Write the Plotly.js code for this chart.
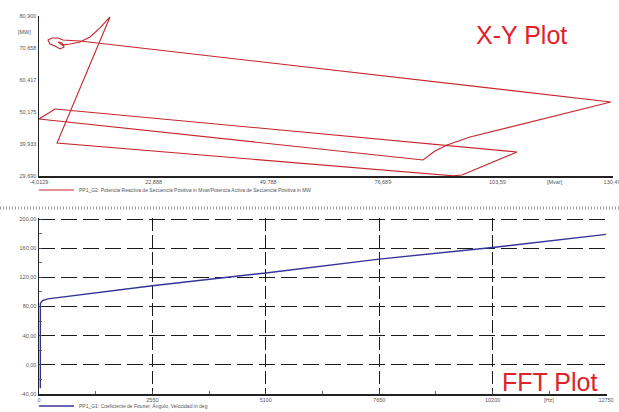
<!DOCTYPE html>
<html>
<head>
<meta charset="utf-8">
<script src="https://cdn.plot.ly/plotly-3.0.1.min.js"></script>
<style>
  html, body { margin: 0; padding: 0; background: #ffffff; }
  #chart { width: 619px; height: 412px; }
</style>
</head>
<body>
<div id="chart"></div>
<script>
// X-Y trajectory: reactive power (Mvar) against active power (MW)
const xyMvar = [12.65, 0.21, 93.17, 95.28, 108.2, -0.26, -4.01, 86.13, 88.94, 91.76, 97.16, 111.2, 130.2,
                5.61, 1.62, 0.45, -0.96, -1.9, -1.43, -0.26, 0.92, 1.86, 1.39, 0.45, 1.39, 3.26, 5.61, 7.96, 10.3, 12.65];
const xyMW   = [80.6, 40.25, 29.75, 30.0, 37.37, 51.14, 47.93, 34.81, 37.69, 39.61, 42.17, 46.98, 53.38,
                72.9, 73.2, 73.86, 73.86, 73.2, 71.94, 71.3, 70.34, 70.98, 72.26, 72.6, 71.6, 71.94, 72.6, 74.2, 77.1, 80.6];

// FFT: Fourier angle against frequency
const fftHz  = [30, 30, 30, 80, 200, 2550, 5100, 7650, 10200, 12750];
const fftDeg = [-32, 40, 84, 88, 90.5, 108.5, 126, 145, 161, 179];

// tick values and labels
const xyXTicks = [-4.0129, 22.888, 49.788, 76.689, 103.59, 130.49];
const xyXText  = ['-4,0129', '22,888', '49,788', '76,689', '103,59', '130,49'];
const xyYTicks = [29.69, 39.933, 50.175, 60.417, 70.658, 80.9];
const xyYText  = ['29,690', '39,933', '50,175', '60,417', '70,658', '80,900'];
const fftXTicks = [0, 2550, 5100, 7650, 10200, 12750];
const fftXText  = ['0', '2550', '5100', '7650', '10200', '12750'];
const fftXMinor = [1275, 3825, 6375, 8925, 11475];
const fftYTicks = [-40, 0, 40, 80, 120, 160, 200];
const fftYText  = ['-40,00', '0,00', '40,00', '80,00', '120,00', '160,00', '200,00'];
const fftYMinor = [-20, 20, 60, 100, 140, 180];

const xyName  = 'PP1_G2: Potencia Reactiva de Secuencia Positiva in Mvar/Potencia Activa de Secuencia Positiva in MW';
const fftName = 'PP1_G1: Coeficiente de Fourier, Ángulo, Velocidad in deg';

const W = 619, H = 412;
const px = v => v / W;
const py = v => 1 - v / H;

const FAMILY = 'Liberation Sans, Arial, sans-serif';
const tickFont = { family: FAMILY, size: 5.5, color: '#555' };

const traces = [
  {
    x: xyMvar, y: xyMW, mode: 'lines', name: xyName,
    line: { color: '#c4262c', width: 1.1 },
    xaxis: 'x', yaxis: 'y', legend: 'legend', hoverinfo: 'skip'
  },
  {
    x: fftHz, y: fftDeg, mode: 'lines', name: fftName,
    line: { color: '#33339a', width: 1.4 },
    xaxis: 'x2', yaxis: 'y2', legend: 'legend2', hoverinfo: 'skip'
  }
];

const layout = {
  width: W, height: H,
  margin: { l: 0, r: 0, t: 0, b: 0, autoexpand: false },
  paper_bgcolor: '#ffffff', plot_bgcolor: '#ffffff',
  font: { family: FAMILY, color: '#555' },
  showlegend: true,
  legend: {
    x: px(34), y: py(190), xanchor: 'left', yanchor: 'middle',
    font: { size: 5, color: '#555' }, bgcolor: 'rgba(0,0,0,0)',
    itemwidth: 35, tracegroupgap: 0
  },
  legend2: {
    x: px(34), y: py(406), xanchor: 'left', yanchor: 'middle',
    font: { size: 5, color: '#555' }, bgcolor: 'rgba(0,0,0,0)',
    itemwidth: 35, tracegroupgap: 0
  },
  xaxis: {
    domain: [px(39), px(612.5)], anchor: 'y',
    range: [-4.0129, 130.6], tickmode: 'array', tickvals: xyXTicks, ticktext: xyXText,
    showgrid: false, zeroline: false, showline: true, linecolor: '#222', linewidth: 1.5,
    ticks: '', tickfont: tickFont, ticklabeloverflow: 'allow'
  },
  yaxis: {
    domain: [py(176), py(16)], anchor: 'x',
    range: [29.69, 80.9], tickmode: 'array', tickvals: xyYTicks, ticktext: xyYText,
    showgrid: false, zeroline: false, showline: true, linecolor: '#222', linewidth: 1.5,
    ticks: '', tickfont: tickFont
  },
  xaxis2: {
    domain: [px(39), px(607)], anchor: 'y2',
    range: [0, 12772], tickmode: 'array', tickvals: fftXTicks, ticktext: fftXText,
    showgrid: true, gridcolor: '#1a1a1a', gridwidth: 1, griddash: '13px,4px',
    zeroline: false, showline: true, linecolor: '#222', linewidth: 1.5,
    ticks: 'inside', ticklen: 3, tickcolor: '#444', tickfont: tickFont,
    minor: { tickmode: 'array', tickvals: fftXMinor, ticks: 'inside', ticklen: 3, tickcolor: '#666', showgrid: false }
  },
  yaxis2: {
    domain: [py(394), py(218)], anchor: 'x2',
    range: [-40, 201.4], tickmode: 'array', tickvals: fftYTicks, ticktext: fftYText,
    showgrid: true, gridcolor: '#1a1a1a', gridwidth: 1, griddash: '16px,6px',
    zeroline: false, showline: true, linecolor: '#222', linewidth: 1.5,
    ticks: 'inside', ticklen: 3, tickcolor: '#444', tickfont: tickFont,
    minor: { tickmode: 'array', tickvals: fftYMinor, ticks: 'inside', ticklen: 3, tickcolor: '#666', showgrid: false }
  },
  shapes: [
    // hatched separator strip between the two panels
    { type: 'line', xref: 'paper', yref: 'paper', x0: 0, x1: 1, y0: py(208), y1: py(208),
      line: { color: '#9a9a9a', width: 3, dash: '1px,2px' } }
  ],
  annotations: [
    { text: 'X-Y Plot', xref: 'paper', yref: 'paper', x: px(521), y: py(35),
      xanchor: 'center', yanchor: 'middle', showarrow: false,
      font: { family: FAMILY, size: 25, color: '#e0222a' } },
    { text: 'FFT Plot', xref: 'paper', yref: 'paper', x: px(549), y: py(382),
      xanchor: 'center', yanchor: 'middle', showarrow: false,
      font: { family: FAMILY, size: 25, color: '#e0222a' } },
    { text: '[MW]', xref: 'paper', yref: 'paper', x: px(33), y: py(32),
      xanchor: 'right', yanchor: 'middle', showarrow: false, font: tickFont },
    { text: '[Mvar]', xref: 'paper', yref: 'paper', x: px(555), y: py(182),
      xanchor: 'center', yanchor: 'middle', showarrow: false, font: tickFont },
    { text: '[Hz]', xref: 'paper', yref: 'paper', x: px(549), y: py(400),
      xanchor: 'center', yanchor: 'middle', showarrow: false, font: tickFont }
  ]
};

Plotly.newPlot('chart', traces, layout, { staticPlot: true, displayModeBar: false });
</script>
</body>
</html>
